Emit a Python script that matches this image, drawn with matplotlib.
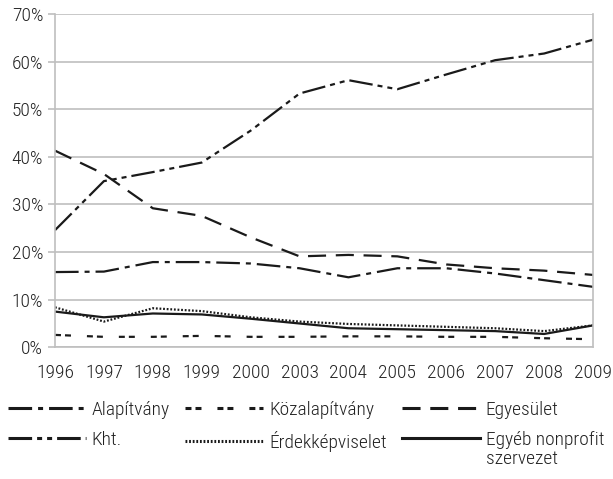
#!/usr/bin/env python3
"""
Share of nonprofit organisation types, 1996-2009 (line chart)
"""
import matplotlib
matplotlib.use("Agg")
import matplotlib.pyplot as plt
from matplotlib.text import Annotation

years = ["1996", "1997", "1998", "1999", "2000", "2003",
         "2004", "2005", "2006", "2007", "2008", "2009"]

alapitvany = [15.8, 15.9, 17.9, 17.9, 17.6, 16.6, 14.7, 16.6, 16.6, 15.5, 14.1, 12.7]
kozalapitvany = [2.6, 2.2, 2.2, 2.4, 2.2, 2.2, 2.3, 2.3, 2.2, 2.2, 1.9, 1.7]
egyesulet = [41.3, 36.4, 29.2, 27.6, 23.1, 19.1, 19.4, 19.1, 17.4, 16.6, 16.1, 15.2]
kht = [24.6, 34.9, 36.8, 38.8, 45.5, 53.3, 56.1, 54.2, 57.3, 60.3, 61.7, 64.6]
erdekkepviselet = [8.4, 5.4, 8.2, 7.6, 6.3, 5.4, 4.9, 4.6, 4.3, 4.0, 3.4, 4.6]
egyeb = [7.5, 6.3, 7.1, 6.9, 6.0, 5.0, 4.0, 3.8, 3.6, 3.4, 2.8, 4.6]

plt.rcParams['font.family'] = ['Roboto Condensed', 'Roboto', 'DejaVu Sans']
plt.rcParams['font.weight'] = 'light'
plt.rcParams['lines.scale_dashes'] = False
TXT = '#222222'
INK = '#1a1a1a'
GRID = '#bfbfbf'
FS = 14

fig = plt.figure(figsize=(6.13, 4.79), dpi=100)
W, H = 613, 479
ax = fig.add_axes([55 / W, 1 - 347.3 / H, (593 - 55) / W, (347.3 - 14) / H])

x = list(range(len(years)))
lw = 1.6
l_alap, = ax.plot(x, alapitvany, color=INK, lw=lw, dashes=(17, 4.3, 3.6, 4.3))
l_koz, = ax.plot(x, kozalapitvany, color=INK, lw=lw, dashes=(4.3, 2.9, 4.3, 11.5))
l_egy, = ax.plot(x, egyesulet, color=INK, lw=lw, dashes=(13, 7))
l_kht, = ax.plot(x, kht, color=INK, lw=lw, dashes=(17, 3.6, 3.6, 3.6, 3.6, 3.6))
l_erd, = ax.plot(x, erdekkepviselet, color=INK, lw=lw, dashes=(1.3, 1.3))
l_egyeb, = ax.plot(x, egyeb, color=INK, lw=lw)

ax.set_xlim(0, len(years) - 1)
ax.set_ylim(0, 70)
ax.set_yticks(range(0, 71, 10))
ax.set_yticklabels(["{}%".format(v) for v in range(0, 71, 10)])
ax.set_xticks(x)
ax.set_xticklabels(years)
ax.set_xticks([0, len(years) - 1], minor=True)

ax.grid(axis='y', color=GRID, lw=1.2)
ax.set_axisbelow(True)
for side in ['left', 'right', 'bottom', 'top']:
    ax.spines[side].set_color(GRID)
    ax.spines[side].set_linewidth(1.2)
ax.spines['top'].set_visible(False)

ax.tick_params(axis='y', length=5, width=1.2, color=GRID, pad=3.5,
               labelsize=FS, labelcolor=TXT)
ax.tick_params(axis='x', which='major', length=0, pad=12,
               labelsize=FS, labelcolor=TXT)
ax.tick_params(axis='x', which='minor', length=6, width=1.2, color=GRID)

handles = [l_alap, l_kht, l_koz, l_erd, l_egy, l_egyeb]
labels = ["Alapítvány", "Kht.", "Közalapítvány", "Érdekképviselet",
          "Egyesület", "Egyéb nonprofit"]
leg = fig.legend(handles, labels, ncol=3, loc='upper left',
                 bbox_to_anchor=(8 / W, 1 - 401 / H), frameon=False,
                 borderpad=0, borderaxespad=0, handlelength=4.0,
                 handletextpad=0.3, columnspacing=0.8, labelspacing=0.6,
                 fontsize=FS, labelcolor=TXT)
for h in leg.get_lines():
    h.set_linewidth(2.2)

# second line of the last legend label, hung under its first line
ann = Annotation("szervezet", xy=(0, 0), xycoords=leg.get_texts()[5],
                 xytext=(0, -1), textcoords='offset points',
                 va='top', ha='left', fontsize=FS, color=TXT)
ann.set_zorder(10)
fig.add_artist(ann)

plt.savefig("out.png", dpi=100)
